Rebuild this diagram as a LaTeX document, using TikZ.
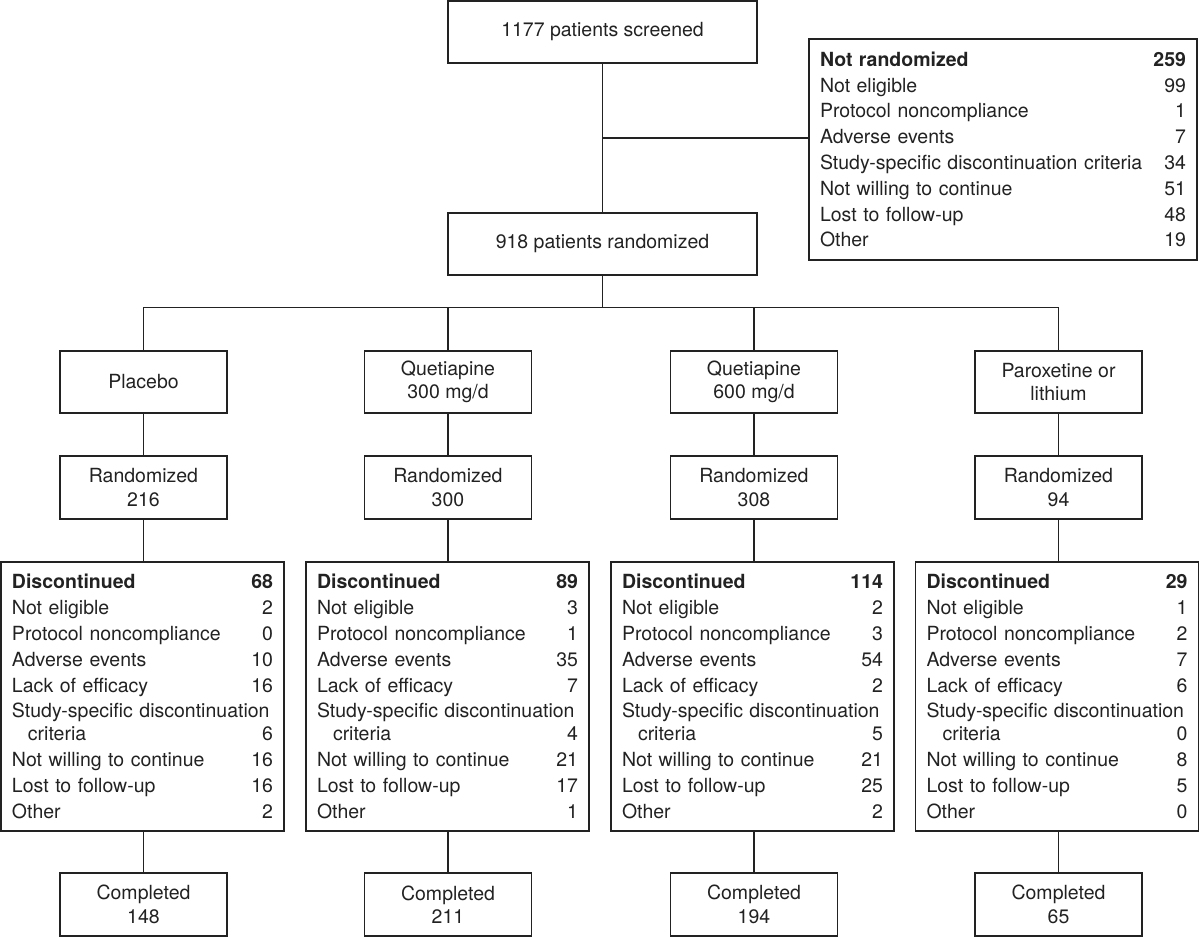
\documentclass[tikz,border=0pt]{standalone}
\usepackage{fontspec}
\setmainfont{TeX Gyre Heros}
\usetikzlibrary{calc}
\definecolor{ink}{HTML}{222222}
\begin{document}
\begin{tikzpicture}[x=1pt,y=-1pt,
  every node/.style={font=\fontsize{19.5}{23.3}\selectfont, text=ink},
  box/.style={draw=ink, line width=1.6pt, align=center, inner sep=0pt, minimum height=62pt},
  wide/.style={box, minimum width=309pt},
  small/.style={box, minimum width=167pt},
  list/.style={draw=ink, line width=1.6pt, align=left, inner xsep=11pt, inner ysep=0pt,
    font=\fontsize{19.5}{25.8}\selectfont},
  disc/.style={list, text width=261pt, minimum height=269pt},
  conn/.style={draw=ink, line width=1.6pt}]
\useasboundingbox (0,0) rectangle (1200,937);

\node[wide] (top) at (602.5,32) {1177 patients screened};
\node[wide] (rand) at (602.5,244) {918 patients randomized};
\node[list, text width=366pt, minimum height=221pt] (nr) at (1003,149.5) {%
\textbf{Not randomized}\hfill\textbf{259}\\
Not eligible\hfill 99\\
Protocol noncompliance\hfill 1\\
Adverse events\hfill 7\\
Study-specific discontinuation criteria\hfill 34\\
Not willing to continue\hfill 51\\
Lost to follow-up\hfill 48\\
Other\hfill 19};

\coordinate (bus) at (0,307.5);

% treatment arms
\node[small] (t1) at (143.5,382) {Placebo};
\node[small] (t2) at (448,382) {Quetiapine\\300 mg/d};
\node[small] (t3) at (754,382) {Quetiapine\\600 mg/d};
\node[small] (t4) at (1058.5,382) {Paroxetine or\\lithium};

\node[small, minimum height=63pt] (r1) at (143.5,487.5) {Randomized\\216};
\node[small, minimum height=63pt] (r2) at (448,487.5) {Randomized\\300};
\node[small, minimum height=63pt] (r3) at (754,487.5) {Randomized\\308};
\node[small, minimum height=63pt] (r4) at (1058.5,487.5) {Randomized\\94};

\node[disc] (d1) at (142.5,696.5) {%
\textbf{Discontinued}\hfill\textbf{68}\\
Not eligible\hfill 2\\
Protocol noncompliance\hfill 0\\
Adverse events\hfill 10\\
Lack of efficacy\hfill 16\\
Study-specific discontinuation\\[-3pt]
\hspace*{16pt}criteria\hfill 6\\
Not willing to continue\hfill 16\\
Lost to follow-up\hfill 16\\
Other\hfill 2};
\node[disc] (d2) at (447.5,696.5) {%
\textbf{Discontinued}\hfill\textbf{89}\\
Not eligible\hfill 3\\
Protocol noncompliance\hfill 1\\
Adverse events\hfill 35\\
Lack of efficacy\hfill 7\\
Study-specific discontinuation\\[-3pt]
\hspace*{16pt}criteria\hfill 4\\
Not willing to continue\hfill 21\\
Lost to follow-up\hfill 17\\
Other\hfill 1};
\node[disc] (d3) at (752.5,696.5) {%
\textbf{Discontinued}\hfill\textbf{114}\\
Not eligible\hfill 2\\
Protocol noncompliance\hfill 3\\
Adverse events\hfill 54\\
Lack of efficacy\hfill 2\\
Study-specific discontinuation\\[-3pt]
\hspace*{16pt}criteria\hfill 5\\
Not willing to continue\hfill 21\\
Lost to follow-up\hfill 25\\
Other\hfill 2};
\node[disc] (d4) at (1057,696.5) {%
\textbf{Discontinued}\hfill\textbf{29}\\
Not eligible\hfill 1\\
Protocol noncompliance\hfill 2\\
Adverse events\hfill 7\\
Lack of efficacy\hfill 6\\
Study-specific discontinuation\\[-3pt]
\hspace*{16pt}criteria\hfill 0\\
Not willing to continue\hfill 8\\
Lost to follow-up\hfill 5\\
Other\hfill 0};

\node[small, minimum height=63pt] (c1) at (143.5,904.5) {Completed\\148};
\node[small, minimum height=63pt] (c2) at (448,904.5) {Completed\\211};
\node[small, minimum height=63pt] (c3) at (754,904.5) {Completed\\194};
\node[small, minimum height=63pt] (c4) at (1058.5,904.5) {Completed\\65};

% connectors
\draw[conn] (top.south) -- (rand.north);
\coordinate (j1) at ($(top.south)!0.5!(rand.north)$);
\draw[conn] (j1) -- (j1 -| nr.west);
\draw[conn] (rand.south) -- (rand.south |- bus);
\draw[conn, line cap=rect] (t1.north |- bus) -- (t4.north |- bus);
\foreach \i in {1,2,3,4}{
  \draw[conn] (t\i.north |- bus) -- (t\i.north);
  \draw[conn] (t\i.south) -- (r\i.north);
  \draw[conn] (r\i.south) -- (r\i.south |- d\i.north);
  \draw[conn] (c\i.north |- d\i.south) -- (c\i.north);
}
\end{tikzpicture}
\end{document}
